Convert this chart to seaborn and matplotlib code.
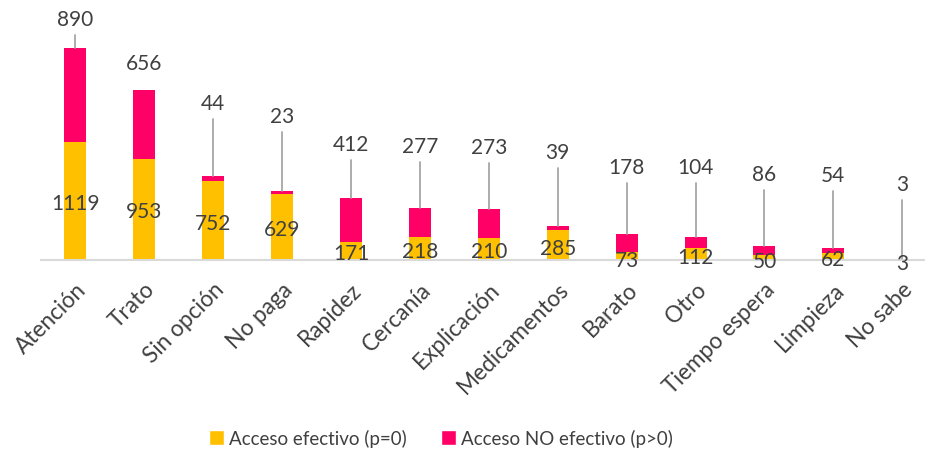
import matplotlib
matplotlib.use("Agg")
import matplotlib.pyplot as plt
import seaborn as sns
import pandas as pd
import numpy as np

categories = ["Atención", "Trato", "Sin opción", "No paga", "Rapidez", "Cercanía",
              "Explicación", "Medicamentos", "Barato", "Otro", "Tiempo espera",
              "Limpieza", "No sabe"]
efectivo = [1119, 953, 752, 629, 171, 218, 210, 285, 73, 112, 50, 62, 3]
no_efectivo = [890, 656, 44, 23, 412, 277, 273, 39, 178, 104, 86, 54, 3]

# label layout (data units) -- manual label placements as in the reference
top_label_y = [2289, 1872, 1488, 1368, 1100, 1085, 1071, 1028, 882, 882, 815, 806, 716]
low_label_y = [545, 464, 355, 294, 71, 85, 85, 118, 0, 33, -14, 14, -33]
leader = [True, False, True, True, True, True, True, True, True, True, True, True, True]

YELLOW = "#FFC000"
PINK = "#FF0066"
TXT = "#404040"

sns.set_theme(style="white")
plt.rcParams["font.family"] = ["Lato", "DejaVu Sans"]

df = pd.DataFrame({"cat": categories, "ef": efectivo, "noef": no_efectivo})
df["total"] = df["ef"] + df["noef"]

fig = plt.figure(figsize=(9.25, 4.56), dpi=100)
ax = fig.add_axes([41 / 925, 195 / 456, 884 / 925, 261 / 456])

sns.barplot(data=df, x="cat", y="total", color=PINK, width=0.32, ax=ax,
            saturation=1, linewidth=0)
sns.barplot(data=df, x="cat", y="ef", color=YELLOW, width=0.32, ax=ax,
            saturation=1, linewidth=0)

ax.set_xlim(-0.5, 12.33)
ax.set_ylim(0, 2474)
ax.set_xlabel("")
ax.set_ylabel("")
ax.set_yticks([])
for s in ["top", "right", "left"]:
    ax.spines[s].set_visible(False)
ax.spines["bottom"].set_color("#D9D9D9")
ax.spines["bottom"].set_linewidth(1.5)
ax.tick_params(axis="x", length=0, pad=13)

ax.set_xticks(range(len(categories)))
ax.set_xticklabels(categories, rotation=45, ha="right", va="top",
                   rotation_mode="anchor", fontsize=16.3, color=TXT)

px = 0.1055  # px per unit
for i in range(len(categories)):
    total = efectivo[i] + no_efectivo[i]
    ax.text(i, top_label_y[i], str(no_efectivo[i]), ha="center", va="center",
            fontsize=15, color=TXT, clip_on=False)
    ax.text(i, low_label_y[i], str(efectivo[i]), ha="center", va="center",
            fontsize=15, color=TXT, clip_on=False)
    if leader[i]:
        ax.plot([i, i], [top_label_y[i] - 16 / px, total], color="#A6A6A6",
                lw=1.3, zorder=1, clip_on=False)

from matplotlib.patches import Patch
handles = [Patch(facecolor=YELLOW, label="Acceso efectivo (p=0)"),
           Patch(facecolor=PINK, label="Acceso NO efectivo (p>0)")]
leg = fig.legend(handles=handles, loc="center", bbox_to_anchor=(441 / 925, 1 - 439 / 456),
                 ncol=2, frameon=False, fontsize=13.5, handlelength=0.8,
                 handleheight=0.8, handletextpad=0.3, columnspacing=1.8)
for t in leg.get_texts():
    t.set_color(TXT)

fig.savefig("out.png", dpi=100)
